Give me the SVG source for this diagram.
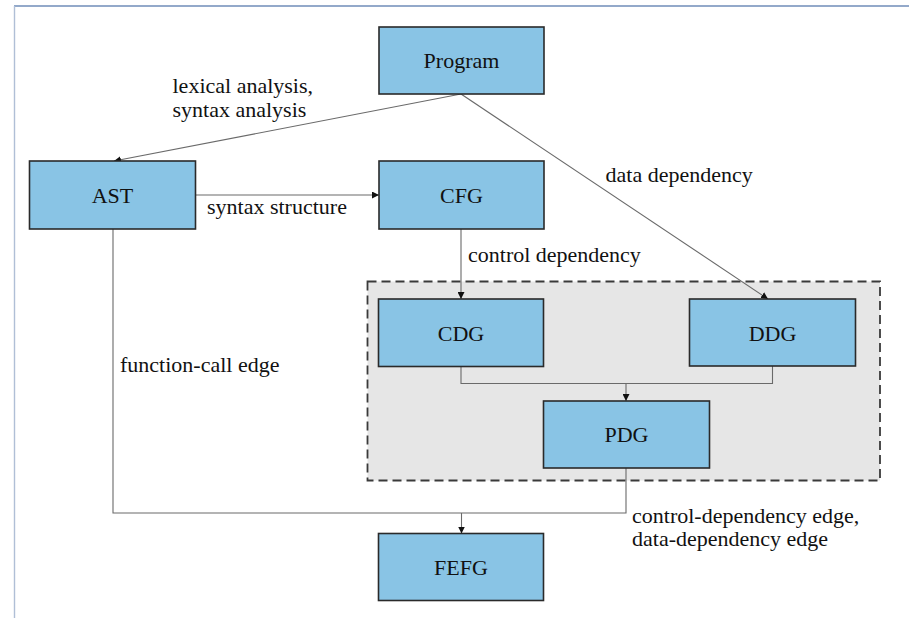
<svg xmlns="http://www.w3.org/2000/svg" width="909" height="618" viewBox="0 0 909 618">
<defs>
<style>
.box{fill:#89c4e5;stroke:#2a2a2a;stroke-width:1.6}
.lbl{font-family:"Liberation Serif","Times New Roman",serif;font-size:22px;fill:#111}
.mid{text-anchor:middle}
.edge{fill:none;stroke:#6a6a6a;stroke-width:1.1}
</style>
<marker id="arr" viewBox="0 0 10 10" refX="10" refY="5" markerWidth="7" markerHeight="7" markerUnits="userSpaceOnUse" orient="auto">
<path d="M0,0 L10,5 L0,10 z" fill="#111"/>
</marker>
</defs>
<rect width="909" height="618" fill="#ffffff"/>
<line x1="14" y1="6" x2="909" y2="6" stroke="#6f8db8" stroke-width="1.6"/>
<line x1="14.5" y1="6" x2="14.5" y2="618" stroke="#b0bfd6" stroke-width="1.4"/>

<g id="group-pdg">
<rect x="367.5" y="281.5" width="512.5" height="199" fill="#e6e6e6" stroke="#3a3a3a" stroke-width="1.8" stroke-dasharray="9,5"/>
</g>

<g id="connectors">
<line class="edge" x1="461" y1="94" x2="114" y2="161" marker-end="url(#arr)"/>
<line class="edge" x1="461" y1="94" x2="768" y2="299" marker-end="url(#arr)"/>
<line class="edge" x1="195.5" y1="195" x2="379" y2="195" marker-end="url(#arr)"/>
<line class="edge" x1="461" y1="229" x2="461" y2="299" marker-end="url(#arr)"/>
<path class="edge" d="M461,366.5 V383.5 H772.5 V366"/>
<line class="edge" x1="626" y1="383.5" x2="626" y2="401" marker-end="url(#arr)"/>
<path class="edge" d="M626,468 V513 H113 V229"/>
<line class="edge" x1="461.5" y1="513" x2="461.5" y2="533.5" marker-end="url(#arr)"/>
</g>

<g id="edge-labels">
<text class="lbl" x="172.5" y="93">lexical analysis,</text>
<text class="lbl" x="172.5" y="116.5">syntax analysis</text>
<text class="lbl" x="207" y="214">syntax structure</text>
<text class="lbl" x="605.5" y="182.3">data dependency</text>
<text class="lbl" x="468" y="261.7">control dependency</text>
<text class="lbl" x="120" y="371.7">function-call edge</text>
<text class="lbl" x="632" y="523.3">control-dependency edge,</text>
<text class="lbl" x="632" y="546">data-dependency edge</text>
</g>

<g id="node-program">
<rect class="box" x="379" y="27" width="165" height="67"/>
<text class="lbl mid" x="461.5" y="68">Program</text>
</g>
<g id="node-ast">
<rect class="box" x="29.5" y="161" width="166" height="68"/>
<text class="lbl mid" x="112.5" y="202.5">AST</text>
</g>
<g id="node-cfg">
<rect class="box" x="379" y="161" width="165" height="68"/>
<text class="lbl mid" x="461.5" y="202.5">CFG</text>
</g>
<g id="node-cdg">
<rect class="box" x="378.5" y="299" width="165" height="67.5"/>
<text class="lbl mid" x="461" y="340.5">CDG</text>
</g>
<g id="node-ddg">
<rect class="box" x="689.5" y="299" width="166" height="67"/>
<text class="lbl mid" x="772.5" y="340.5">DDG</text>
</g>
<g id="node-pdg">
<rect class="box" x="543.5" y="401" width="166" height="67"/>
<text class="lbl mid" x="626.5" y="442">PDG</text>
</g>
<g id="node-fefg">
<rect class="box" x="378.5" y="533.5" width="165" height="67"/>
<text class="lbl mid" x="461" y="574.5">FEFG</text>
</g>
</svg>
